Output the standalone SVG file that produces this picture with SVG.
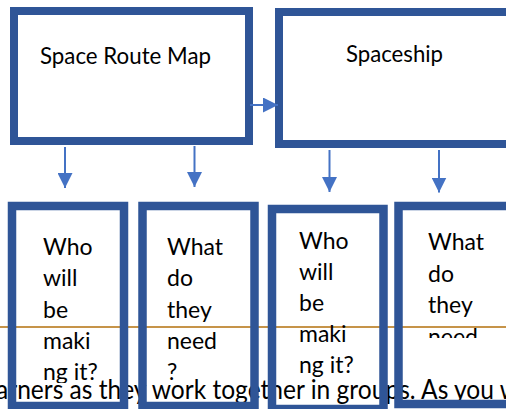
<svg xmlns="http://www.w3.org/2000/svg" width="506" height="409" viewBox="0 0 506 409">
<defs>
<style>
.box{fill:none;stroke:#2F5597;stroke-width:8}
.sbox{fill:none;stroke:#2F5597;stroke-width:8.5}
.t{font-family:Lato,"Liberation Sans",sans-serif;font-size:23px;fill:#000}
.body{font-family:Lato,"Liberation Sans",sans-serif;font-size:26px;fill:#000}
.conn{stroke:#4472C4;stroke-width:2;fill:none}
.rule{stroke:#C69449;stroke-width:2}
</style>
<marker id="arr" markerUnits="userSpaceOnUse" markerWidth="15" markerHeight="15" viewBox="0 0 15 15" refX="15" refY="7.5" orient="auto">
<path d="M0,0 L15,7.5 L0,15 z" fill="#4472C4"/>
</marker>
<clipPath id="c3"><rect x="0" y="200" width="506" height="183"/></clipPath>
<clipPath id="c6"><rect x="0" y="200" width="506" height="138"/></clipPath>
</defs>
<rect x="0" y="0" width="506" height="409" fill="#fff"/>
<g id="page-text">
<line class="rule" x1="0" y1="327" x2="506" y2="327"/>
<text class="body" x="-4" y="399" textLength="523" lengthAdjust="spacingAndGlyphs">arners as they work together in groups. As you w</text>
</g>
<g id="space-route-map">
<rect class="box" x="14" y="11" width="235" height="130"/>
<text class="t" x="40" y="64" font-size="24" textLength="171" lengthAdjust="spacingAndGlyphs">Space Route Map</text>
</g>
<g id="spaceship">
<rect class="box" x="279" y="12" width="240" height="132"/>
<text class="t" x="346" y="62" font-size="24" textLength="97" lengthAdjust="spacingAndGlyphs">Spaceship</text>
</g>
<g id="who-route">
<rect class="sbox" x="12" y="206" width="112" height="200"/>
<g clip-path="url(#c3)">
<text class="t" x="43" y="255">Who</text>
<text class="t" x="43" y="286.3">will</text>
<text class="t" x="43" y="317.6">be</text>
<text class="t" x="43" y="348.9">maki</text>
<text class="t" x="43" y="380.2">ng it?</text>
</g>
</g>
<g id="what-route">
<rect class="sbox" x="142.5" y="206" width="112" height="200"/>
<text class="t" x="167" y="255">What</text>
<text class="t" x="167" y="286.3">do</text>
<text class="t" x="167" y="317.6">they</text>
<text class="t" x="167" y="348.9">need</text>
<text class="t" x="167" y="380.2">?</text>
</g>
<g id="who-ship">
<rect class="sbox" x="272" y="209" width="111.5" height="200"/>
<text class="t" x="299" y="248.5">Who</text>
<text class="t" x="299" y="279.5">will</text>
<text class="t" x="299" y="310.5">be</text>
<text class="t" x="299" y="341.5">maki</text>
<text class="t" x="299" y="372.5">ng it?</text>
</g>
<g id="what-ship">
<rect class="sbox" x="398.5" y="206" width="130" height="198"/>
<g clip-path="url(#c6)">
<text class="t" x="428" y="250">What</text>
<text class="t" x="428" y="281.5">do</text>
<text class="t" x="428" y="313">they</text>
<text class="t" x="428" y="344.5">need</text>
</g>
</g>
<g id="connectors">
<line class="conn" x1="250" y1="105" x2="278" y2="105" marker-end="url(#arr)"/>
<line class="conn" x1="65" y1="147" x2="65" y2="188" marker-end="url(#arr)"/>
<line class="conn" x1="194.5" y1="146" x2="194.5" y2="187" marker-end="url(#arr)"/>
<line class="conn" x1="329.5" y1="150" x2="329.5" y2="192" marker-end="url(#arr)"/>
<line class="conn" x1="439" y1="150" x2="439" y2="192.5" marker-end="url(#arr)"/>
</g>
</svg>
